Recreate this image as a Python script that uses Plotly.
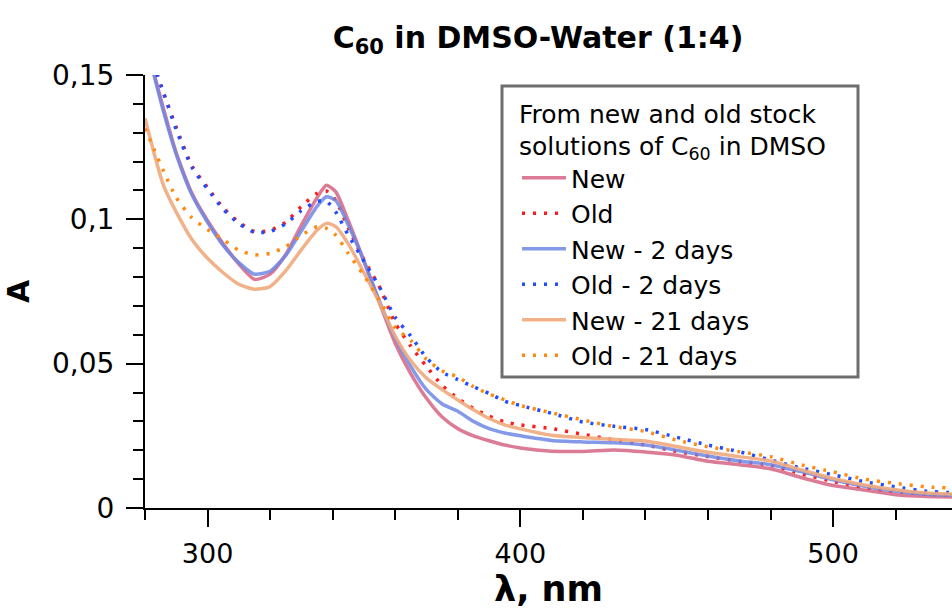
import plotly.graph_objects as go

# ---- data ----
WAVELENGTH = [280, 283, 286, 290, 295, 300, 305, 310, 315, 320, 325, 330, 335, 338, 341,
              345, 350, 355, 360, 365, 370, 375, 380, 385, 390, 395, 400, 410, 420, 430,
              440, 450, 460, 470, 480, 490, 500, 510, 520, 530, 540]

NEW = [0.162, 0.150, 0.138, 0.123, 0.109, 0.0995, 0.0915, 0.0845, 0.0792, 0.081, 0.0878, 0.098,
       0.1075, 0.1118, 0.1095, 0.0995, 0.0855, 0.071, 0.057, 0.0465, 0.038, 0.0315, 0.0275,
       0.025, 0.0233, 0.0218, 0.0208, 0.0197, 0.0196, 0.0201, 0.0194, 0.0183, 0.0162, 0.0150,
       0.0136, 0.0105, 0.0078, 0.0062, 0.0046, 0.0040, 0.0038]

OLD = [0.165, 0.153, 0.1436, 0.1318, 0.1185, 0.111, 0.104, 0.099, 0.0958, 0.0962, 0.099, 0.1045,
       0.109, 0.1098, 0.1065, 0.097, 0.086, 0.0765, 0.064, 0.056, 0.049, 0.0425, 0.038, 0.0345,
       0.0318, 0.0298, 0.0288, 0.0275, 0.0255, 0.0236, 0.0218, 0.0196, 0.0178, 0.0162, 0.0148,
       0.0118, 0.0092, 0.0072, 0.0057, 0.0048, 0.0044]

NEW_2D = [0.162, 0.1495, 0.137, 0.1225, 0.1085, 0.099, 0.091, 0.085, 0.081, 0.082, 0.0875, 0.096,
          0.1045, 0.1078, 0.1065, 0.098, 0.0855, 0.0715, 0.059, 0.049, 0.041, 0.036, 0.0335, 0.030,
          0.0275, 0.026, 0.0250, 0.0234, 0.0229, 0.0226, 0.0218, 0.0200, 0.0180, 0.0163, 0.0150,
          0.0125, 0.0098, 0.0075, 0.0058, 0.0048, 0.0044]

OLD_2D = [0.165, 0.153, 0.1436, 0.131, 0.118, 0.1105, 0.1035, 0.0985, 0.0955, 0.0958, 0.0985, 0.103,
          0.1062, 0.1063, 0.1025, 0.0945, 0.0855, 0.0765, 0.066, 0.0595, 0.052, 0.047, 0.0445, 0.042,
          0.0397, 0.037, 0.0355, 0.0328, 0.0298, 0.0283, 0.0272, 0.0245, 0.0218, 0.0195, 0.0166,
          0.0138, 0.0115, 0.0091, 0.0073, 0.0058, 0.0052]

NEW_21D = [0.135, 0.1225, 0.1115, 0.1025, 0.093, 0.0865, 0.0815, 0.0775, 0.0758, 0.0767, 0.0822,
           0.0895, 0.0962, 0.0986, 0.0975, 0.0915, 0.0815, 0.071, 0.0595, 0.051, 0.045, 0.041, 0.0374,
           0.034, 0.031, 0.0288, 0.0274, 0.0252, 0.0244, 0.0238, 0.0232, 0.0213, 0.0193, 0.0178,
           0.0163, 0.0132, 0.0102, 0.0080, 0.0063, 0.0052, 0.0048]

OLD_21D = [0.1315, 0.124, 0.1165, 0.1075, 0.1005, 0.0965, 0.093, 0.0893, 0.0877, 0.0882, 0.0905,
           0.0945, 0.0974, 0.0969, 0.0945, 0.0882, 0.0805, 0.072, 0.0625, 0.058, 0.0515, 0.0475,
           0.0454, 0.042, 0.0395, 0.0375, 0.0355, 0.0330, 0.0305, 0.0282, 0.0265, 0.0235, 0.0212,
           0.0195, 0.0178, 0.0149, 0.0125, 0.0100, 0.0085, 0.0073, 0.0068]

SERIES_NAMES = ["New", "Old", "New - 2 days", "Old - 2 days", "New - 21 days", "Old - 21 days"]
SERIES_VALUES = [NEW, OLD, NEW_2D, OLD_2D, NEW_21D, OLD_21D]

X_TICKS = [300, 400, 500]
X_TICK_TEXT = ["300", "400", "500"]
Y_TICKS = [0, 0.05, 0.1, 0.15]
Y_TICK_TEXT = ["0", "0,05", "0,1", "0,15"]

TITLE = "C<sub>60</sub> in DMSO-Water (1:4)"
LEGEND_TITLE = "From new and old stock<br>solutions of C<sub>60</sub> in DMSO"
X_TITLE = "λ, nm"
Y_TITLE = "A"

# ---- styles ----
STYLES = [
    dict(color="rgba(214,100,130,0.85)", width=3.5, dash="solid"),
    dict(color="#ff1a1a", width=3.5, dash="3px,8px"),
    dict(color="rgba(110,135,228,0.85)", width=3.5, dash="solid"),
    dict(color="#1f4dff", width=3.5, dash="3px,8px"),
    dict(color="rgba(240,170,125,0.9)", width=3.5, dash="solid"),
    dict(color="#ff8a10", width=3.5, dash="3px,8px"),
]

FONT = "DejaVu Sans"

# plot area in pixels
L, R, T, B = 145, 952, 75, 508
PW, PH = R - L, B - T


def px_x(x):
    return (x - L) / PW


def px_y(y):
    return (B - y) / PH


fig = go.Figure()
for name, vals, st in zip(SERIES_NAMES, SERIES_VALUES, STYLES):
    fig.add_trace(go.Scatter(
        x=WAVELENGTH, y=vals, name=name, mode="lines",
        line=dict(color=st["color"], width=st["width"], dash=st["dash"], shape="spline", smoothing=0.6),
    ))

# legend frame
fig.add_shape(type="rect", xref="paper", yref="paper",
              x0=px_x(502), x1=px_x(858), y0=px_y(377), y1=px_y(86),
              line=dict(color="#6e6e6e", width=3), fillcolor="white", layer="above")

fig.update_layout(
    width=952, height=609,
    margin=dict(l=L, r=952 - R, t=T, b=609 - B),
    paper_bgcolor="white", plot_bgcolor="white",
    font=dict(family=FONT, size=25, color="black"),
    title=dict(text=TITLE, x=538 / 952, xanchor="center",
               y=1 - 37 / 609, yanchor="middle", yref="container",
               font=dict(family=FONT, size=30, color="black", weight="bold")),
    showlegend=True,
    legend=dict(
        x=px_x(517), y=px_y(90), xanchor="left", yanchor="top",
        bgcolor="rgba(0,0,0,0)", borderwidth=0,
        font=dict(family=FONT, size=25, color="black"),
        title=dict(text=LEGEND_TITLE, font=dict(family=FONT, size=25, color="black")),
        itemwidth=44, tracegroupgap=0,
    ),
)

fig.update_xaxes(
    range=[280, 538],
    showline=True, linecolor="black", linewidth=2,
    showgrid=False, zeroline=False,
    tickmode="array", tickvals=X_TICKS, ticktext=X_TICK_TEXT,
    ticks="outside", ticklen=17, tickwidth=2, tickcolor="black",
    tickfont=dict(family=FONT, size=27, color="black"),
    ticklabelstandoff=4,
    minor=dict(dtick=20, tick0=280, ticks="outside", ticklen=10, tickwidth=2, tickcolor="black", showgrid=False),
    title=dict(text="<b>" + X_TITLE + "</b>", font=dict(family=FONT, size=35, color="black"), standoff=13),
)
fig.update_yaxes(
    range=[0, 0.15],
    showline=True, linecolor="black", linewidth=2,
    showgrid=False, zeroline=False,
    tickmode="array", tickvals=Y_TICKS, ticktext=Y_TICK_TEXT,
    ticks="outside", ticklen=17, tickwidth=2, tickcolor="black",
    tickfont=dict(family=FONT, size=28, color="black"),
    ticklabelstandoff=6,
    minor=dict(dtick=0.01, tick0=0, ticks="outside", ticklen=10, tickwidth=2, tickcolor="black", showgrid=False),
    title=dict(text="<b>" + Y_TITLE + "</b>", font=dict(family=FONT, size=30, color="black"), standoff=14),
)

fig.write_html("out.html")
